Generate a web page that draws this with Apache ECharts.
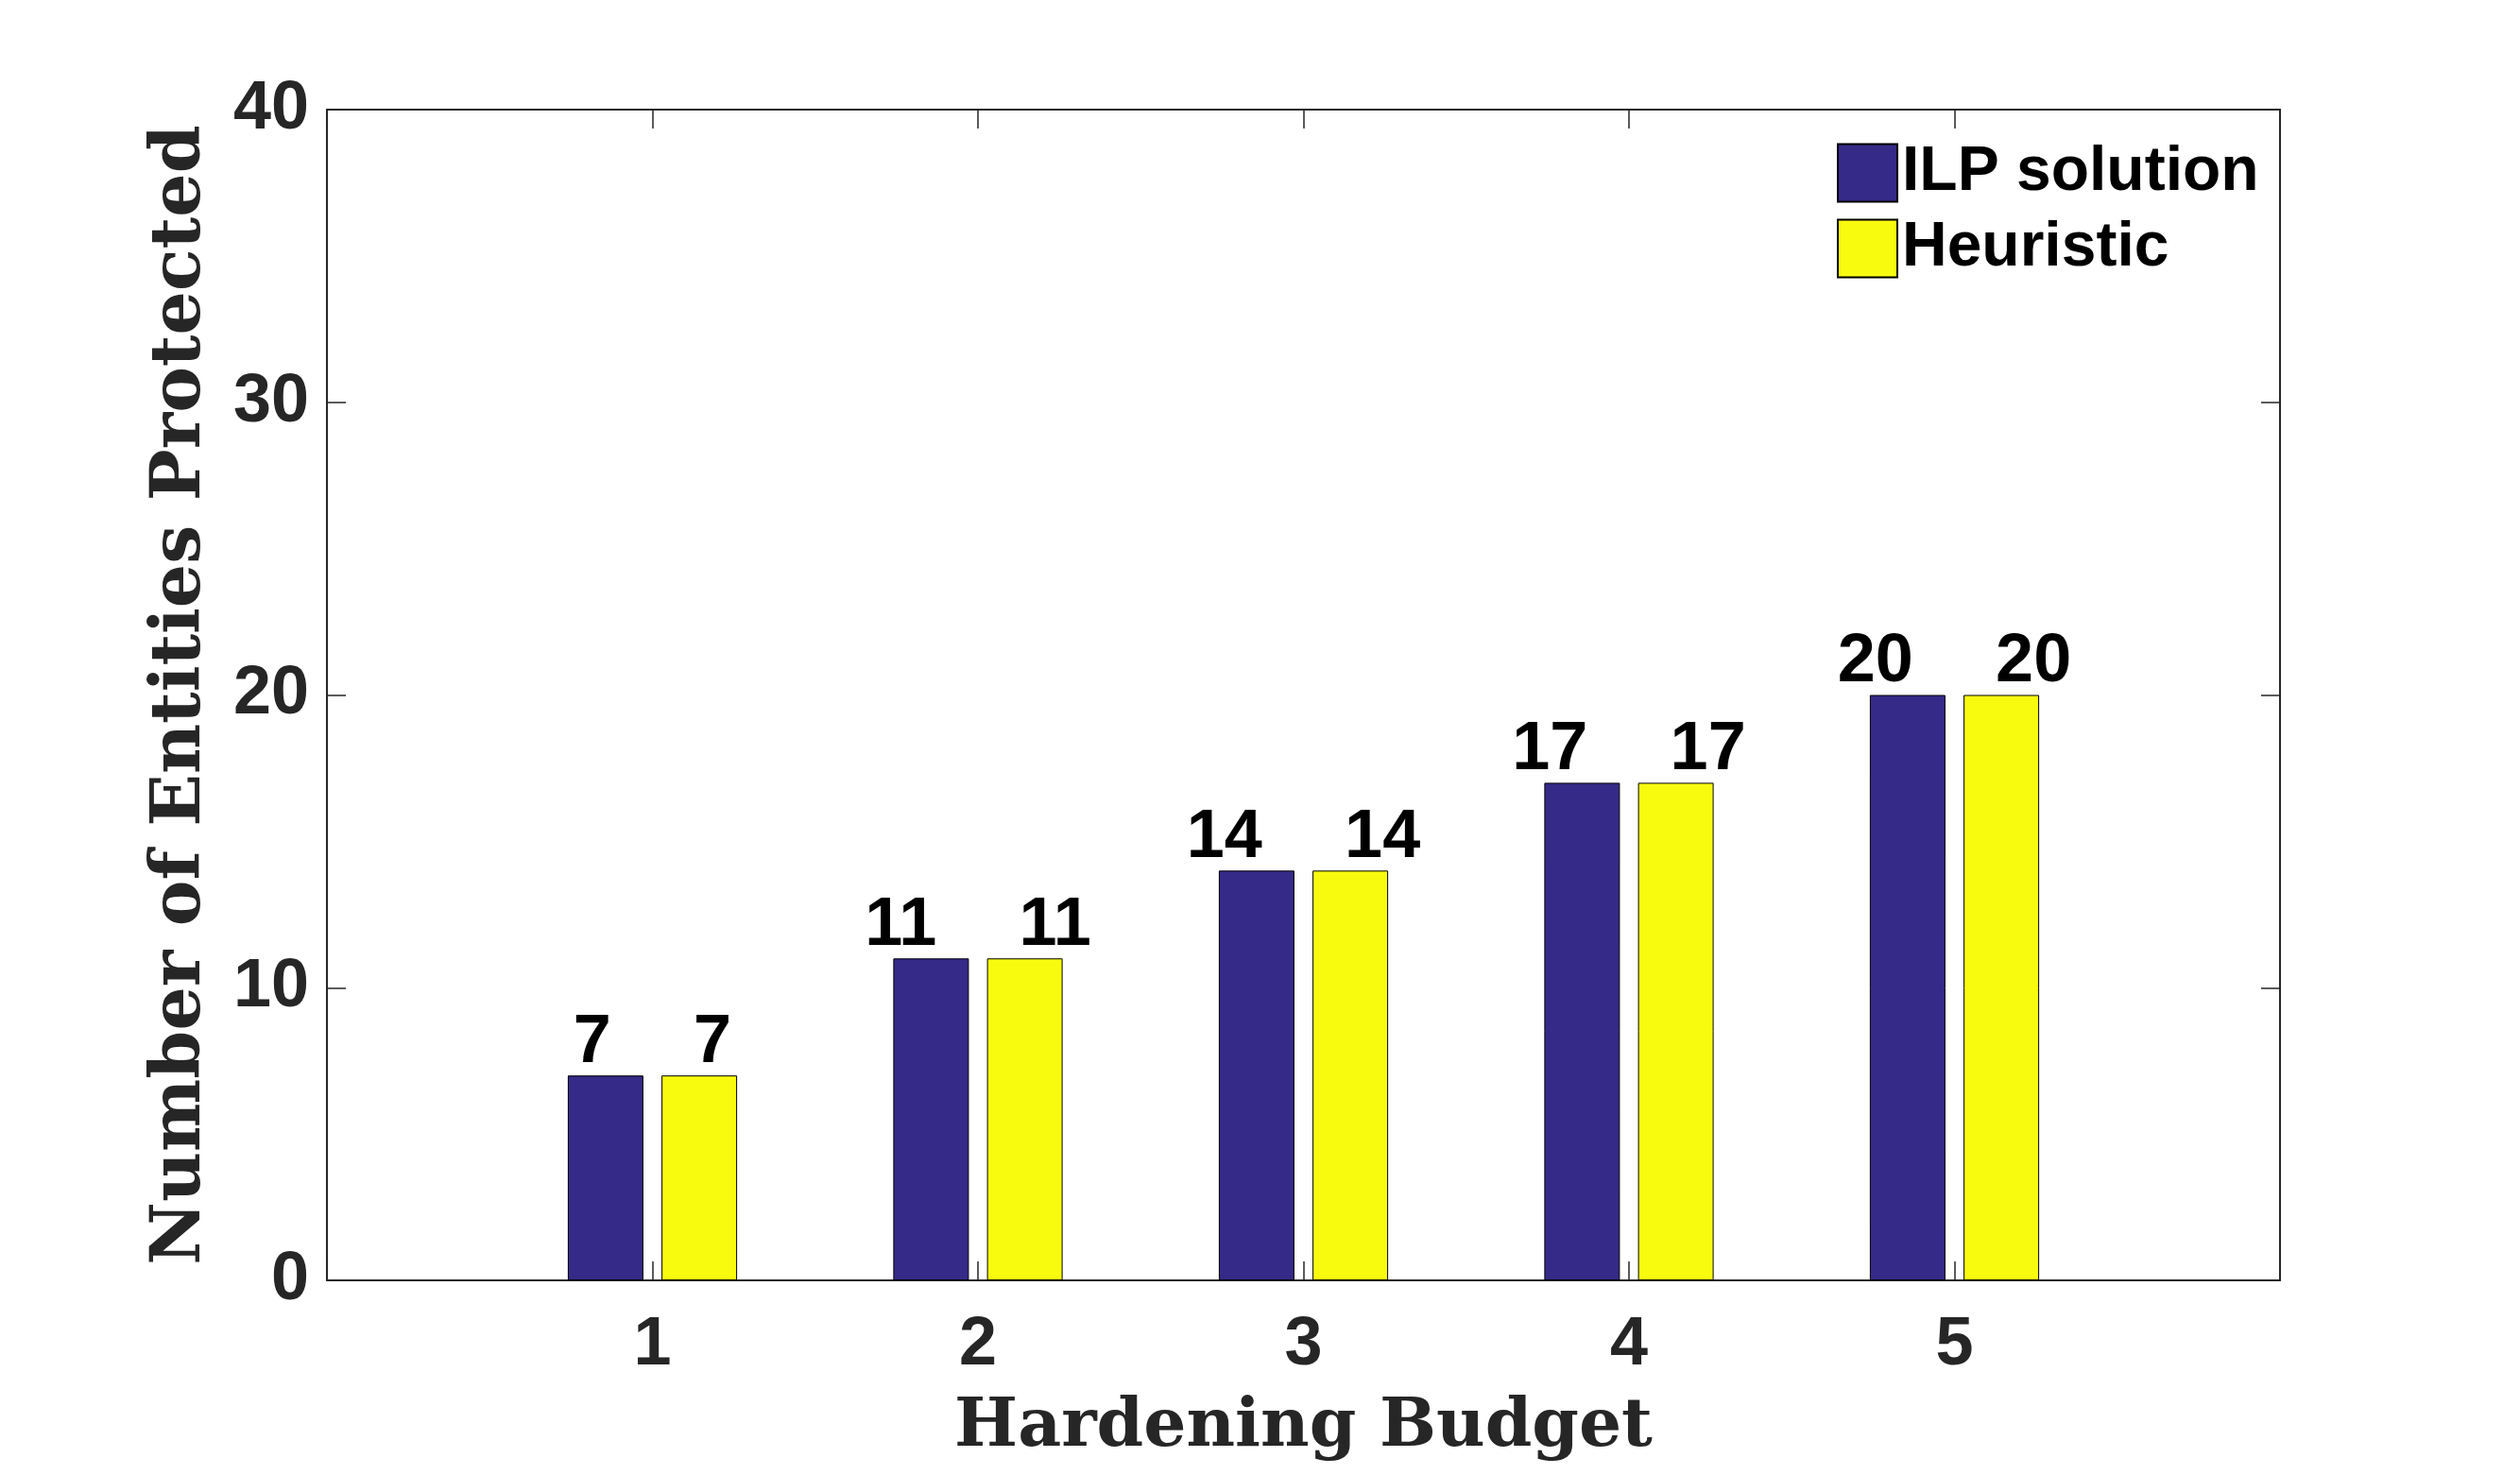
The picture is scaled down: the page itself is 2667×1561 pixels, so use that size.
<!DOCTYPE html>
<html>
<head>
<meta charset="utf-8">
<title>Hardening Budget</title>
<script src="https://cdn.jsdelivr.net/npm/echarts@6/dist/echarts.min.js"></script>
<style>
  html, body { margin: 0; padding: 0; background: #fff; }
  #main { width: 2667px; height: 1561px; }
</style>
</head>
<body>
<div id="main"></div>
<script>
// data
var budgets = [1, 2, 3, 4, 5];
var ilpValues = [7, 11, 14, 17, 20];
var heuristicValues = [7, 11, 14, 17, 20];
var seriesNames = ['ILP solution', 'Heuristic'];

var chartDom = document.getElementById('main');
var myChart = echarts.init(chartDom);

var sans = 'Liberation Sans, Arial, Helvetica, sans-serif';
var serif = 'DejaVu Serif, serif';
var axisColor = '#262626';

// axis with ticks pointing in, mirrored on the opposite side (box on)
function boxAxis(pos, extra) {
    return Object.assign({
        position: pos,
        axisLine: { show: true, onZero: false, lineStyle: { color: axisColor, width: 2 } },
        axisTick: { show: true, inside: true, length: 20, lineStyle: { color: axisColor, width: 1.5 } },
        splitLine: { show: false }
    }, extra);
}

var option = {
    backgroundColor: '#fff',
    animation: false,
    grid: { left: 346, top: 116, right: 254, bottom: 206, containLabel: false },
    legend: {
        orient: 'vertical',
        left: 1939,
        top: 145,
        itemWidth: 63,
        itemHeight: 61,
        itemGap: 14,
        icon: 'rect',
        textStyle: { fontFamily: sans, fontWeight: 'bold', fontSize: 66, color: '#000' },
        data: seriesNames
    },
    xAxis: [
        boxAxis('bottom', {
            type: 'value', min: 0, max: 6, interval: 1,
            name: 'Hardening Budget',
            nameLocation: 'middle',
            nameGap: 121,
            nameTextStyle: { fontFamily: serif, fontWeight: 'bold', fontSize: 71, color: axisColor },
            axisLabel: {
                margin: 33,
                fontFamily: sans, fontWeight: 'bold', fontSize: 72, color: axisColor,
                formatter: function (v) { return budgets.indexOf(v) >= 0 ? String(v) : ''; }
            }
        }),
        boxAxis('top', { type: 'value', min: 0, max: 6, interval: 1, axisLabel: { show: false } })
    ],
    yAxis: [
        boxAxis('left', {
            type: 'value', min: 0, max: 40, interval: 10,
            name: 'Number of Entities Protected',
            nameLocation: 'middle',
            nameGap: 117,
            nameTextStyle: { fontFamily: serif, fontWeight: 'bold', fontSize: 73, color: axisColor },
            axisLabel: { margin: 19, fontFamily: sans, fontWeight: 'bold', fontSize: 72, color: axisColor }
        }),
        boxAxis('right', { type: 'value', min: 0, max: 40, interval: 10, axisLabel: { show: false } })
    ],
    series: [
        {
            name: seriesNames[0],
            type: 'bar',
            xAxisIndex: 0,
            yAxisIndex: 0,
            barWidth: 80,
            barGap: '24%',
            data: budgets.map(function (b, i) { return [b, ilpValues[i]]; }),
            itemStyle: { color: '#352a87', borderColor: '#000', borderWidth: 1 },
            label: {
                show: true, position: 'top', distance: -2, align: 'right', offset: [6, 0],
                fontFamily: sans, fontWeight: 'bold', fontSize: 72, color: '#000',
                formatter: function (p) { return p.value[1]; }
            }
        },
        {
            name: seriesNames[1],
            type: 'bar',
            xAxisIndex: 0,
            yAxisIndex: 0,
            barWidth: 80,
            barGap: '24%',
            data: budgets.map(function (b, i) { return [b, heuristicValues[i]]; }),
            itemStyle: { color: '#f9fb0e', borderColor: '#000', borderWidth: 1 },
            label: {
                show: true, position: 'top', distance: -2, align: 'left', offset: [-6, 0],
                fontFamily: sans, fontWeight: 'bold', fontSize: 72, color: '#000',
                formatter: function (p) { return p.value[1]; }
            }
        }
    ]
};

option && myChart.setOption(option);
window.addEventListener('resize', function () {
    myChart.resize();
});
</script>
</body>
</html>
